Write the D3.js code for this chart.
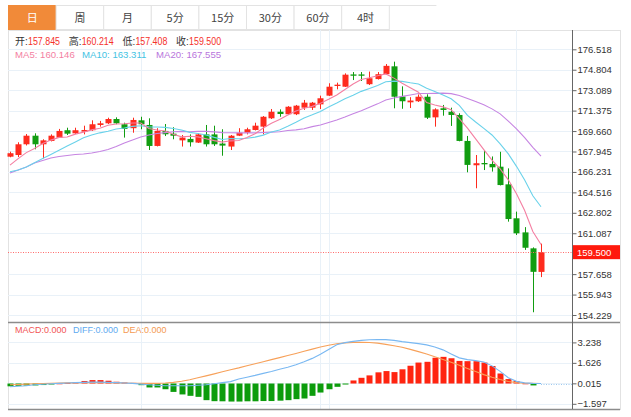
<!DOCTYPE html>
<html><head><meta charset="utf-8">
<script src="https://cdn.jsdelivr.net/npm/d3@7"></script>
<style>
html,body{margin:0;padding:0;background:#fff;}
svg{display:block;font-family:"Liberation Sans",Arial,"Noto Sans CJK SC",sans-serif;}
</style></head><body>
<svg id="c" width="631" height="417"></svg>
<script>
// ---------- data ----------
const tabs = ["日","周","月","5分","15分","30分","60分","4时"];
const openP = [167.51,167.65,168.55,169.27,168.55,168.83,169.11,169.73,169.47,169.61,
169.73,170.17,170.31,170.67,170.23,169.90,170.56,170.17,168.41,169.67,
169.44,168.88,169.00,168.69,169.38,169.38,168.61,168.36,169.27,169.52,
169.75,170.03,170.73,171.28,171.07,171.07,171.62,171.62,171.90,172.63,
173.44,173.38,174.41,174.41,173.59,174.02,174.43,175.09,172.56,172.07,
172.16,172.54,170.81,171.57,171.28,171.01,168.83,166.79,166.98,166.90,
166.67,165.19,162.34,161.16,159.82,157.845];
const highP = [167.93,168.72,169.41,169.47,168.97,169.38,169.84,169.94,169.94,170.11,
170.56,170.51,170.78,170.81,170.36,170.78,170.86,170.73,169.90,170.25,
169.98,169.33,169.38,169.49,170.17,170.11,169.81,169.33,169.90,169.94,
170.36,170.92,171.51,171.48,171.75,171.85,172.27,172.10,172.63,173.67,
173.72,174.50,174.61,174.61,174.65,174.61,175.28,175.48,173.41,172.50,
172.73,172.74,171.57,171.85,171.62,171.15,169.25,167.65,168.07,167.53,
167.92,166.53,162.90,161.60,159.90,160.214];
const lowP = [167.46,167.48,168.45,168.13,167.37,168.79,169.08,169.33,169.41,169.38,
169.67,170.03,170.25,170.23,169.11,169.52,169.81,168.07,168.37,169.24,
168.97,168.36,168.36,168.66,168.36,168.41,167.59,168.07,169.24,169.38,
169.71,169.38,170.67,170.86,171.00,171.00,171.43,171.43,171.51,172.60,
173.16,173.36,173.94,173.86,173.52,173.98,174.40,171.57,171.53,171.59,
172.10,170.67,170.03,170.95,170.09,168.80,166.20,164.86,166.39,166.26,
165.10,162.06,160.94,159.69,154.46,157.408];
const closeP = [167.80,168.55,169.27,168.55,168.88,169.27,169.67,169.44,169.73,169.75,
170.23,170.31,170.67,170.31,169.84,170.59,170.23,168.41,169.67,169.39,
169.27,169.11,168.72,169.38,168.55,168.55,168.44,169.27,169.52,169.81,
170.11,170.86,171.28,171.09,171.70,171.79,172.04,172.04,172.41,173.38,
173.55,174.39,174.30,174.30,174.09,174.43,175.13,172.54,172.16,172.22,
172.54,170.78,171.48,171.43,171.01,168.83,166.82,166.96,166.87,166.62,
165.13,162.28,161.08,159.87,157.85,159.50];
const ma5 = [166.80,167.35,167.85,168.20,168.61,168.90,169.13,169.16,169.40,169.57,
169.76,169.89,170.14,170.25,170.27,170.34,170.33,169.88,169.75,169.66,
169.39,169.17,169.23,169.17,169.01,168.86,168.73,168.84,168.87,169.12,
169.43,169.91,170.32,170.63,171.01,171.34,171.58,171.73,172.00,172.33,
172.68,173.15,173.61,173.98,174.13,174.30,174.45,174.10,173.67,173.30,
172.92,172.05,171.84,171.69,171.45,170.71,169.91,169.01,168.10,167.22,
166.48,165.57,164.40,163.00,161.24,160.146];
const ma10 = [166.25,166.40,166.65,167.00,167.35,167.70,168.05,168.40,168.75,169.09,
169.33,169.51,169.65,169.83,169.92,170.05,170.11,170.01,170.00,169.97,
169.87,169.75,169.55,169.46,169.33,169.13,168.95,169.04,169.02,169.06,
169.15,169.32,169.58,169.75,170.06,170.39,170.75,171.02,171.31,171.67,
172.01,172.37,172.67,172.99,173.23,173.49,173.80,173.85,173.83,173.71,
173.61,173.25,172.97,172.68,172.37,171.81,170.98,170.42,169.89,169.33,
168.59,167.74,166.70,165.55,164.23,163.311];
const ma20 = [166.14,166.39,166.64,166.98,167.19,167.40,167.52,167.61,167.69,167.73,
167.82,167.94,168.11,168.36,168.66,168.91,169.16,169.33,169.46,169.53,
169.60,169.63,169.60,169.64,169.63,169.59,169.53,169.52,169.51,169.51,
169.51,169.54,169.57,169.60,169.70,169.76,169.85,170.03,170.17,170.37,
170.58,170.84,171.12,171.37,171.65,171.94,172.27,172.44,172.57,172.69,
172.81,172.81,172.82,172.84,172.80,172.65,172.39,172.14,171.86,171.52,
171.10,170.50,169.84,169.11,168.30,167.555];
const macdHist = [-0.22,-0.18,-0.16,-0.15,-0.12,-0.05,0.02,0.05,0.10,0.20,
0.27,0.27,0.22,0.14,0.08,0.05,-0.13,-0.31,-0.31,-0.45,
-0.66,-0.86,-0.97,-1.05,-1.31,-1.39,-1.40,-1.42,-1.42,-1.40,
-1.40,-1.38,-1.38,-1.35,-1.31,-1.23,-1.18,-0.97,-0.71,-0.45,
-0.26,-0.02,0.24,0.45,0.64,0.88,0.98,0.90,1.12,1.40,
1.65,1.71,2.03,2.10,1.99,1.78,1.76,1.76,1.65,1.38,
0.79,0.35,0.20,0.02,-0.15,0.00];
const diffLine = [-0.26,-0.22,-0.17,-0.10,-0.06,-0.02,0.01,0.04,0.07,0.09,
0.11,0.11,0.09,0.07,0.04,0.01,-0.05,-0.10,-0.14,-0.17,
-0.18,-0.18,-0.17,-0.14,-0.10,-0.02,0.07,0.15,0.36,0.50,
0.64,0.80,0.94,1.12,1.28,1.48,1.72,1.98,2.30,2.68,
3.05,3.22,3.32,3.40,3.45,3.47,3.46,3.40,3.30,3.22,
3.14,3.04,2.88,2.65,2.33,2.02,1.88,1.80,1.70,1.39,
0.96,0.45,0.17,0.05,0.015,0.00];
const deaLine = [-0.10,-0.08,-0.05,-0.02,0.00,0.015,0.03,0.05,0.05,0.06,
0.07,0.07,0.06,0.05,0.04,0.02,0.01,0.01,0.015,0.04,
0.09,0.18,0.30,0.45,0.60,0.76,0.92,1.08,1.23,1.40,
1.56,1.72,1.88,2.04,2.20,2.37,2.54,2.71,2.88,3.02,
3.13,3.20,3.24,3.25,3.23,3.18,3.08,2.98,2.85,2.69,
2.51,2.32,2.11,1.89,1.68,1.44,1.19,0.95,0.70,0.49,
0.31,0.16,0.07,0.02,0.01,0.00];
const priceTicks = [176.518,174.804,173.089,171.375,169.660,167.945,166.231,164.516,162.802,161.087,157.658,155.943,154.229];
const macdTicks = [3.238,1.626,0.015,-1.597];
const lastPrice = 159.500;
const gridCandles = [16,38,39,62];

// ---------- layout ----------
const svg = d3.select("#c");
const L = 8, R = 620, AX = 572, TOP = 30, MID = 322, BOT = 409;
const n = closeP.length;
const x = d3.scaleLinear().domain([0, n-1]).range([10, 541]);
const y = d3.scaleLinear().domain([154.229, 176.518]).range([315, 49.3]);
const ym = d3.scaleLinear().domain([-1.597, 3.238]).range([403.8, 342.4]);
const UP = "#fe2b1e", DN = "#119d11";
const fmt = d3.format(".3f");
const cr = v => Math.round(v) + 0.5;

// tabs
const tabW = 47.6;
const tg = svg.append("g");
tg.append("line").attr("x1", L).attr("x2", L + tabW*9).attr("y1", 5.5).attr("y2", 5.5).attr("stroke", "#e3e3e3");
tabs.forEach((t, i) => {
  const tx = L + i*tabW;
  tg.append("rect").attr("x", tx + 0.5).attr("y", 5.5).attr("width", tabW).attr("height", 24)
    .attr("fill", i === 0 ? "#f18a39" : "#fff").attr("stroke", i === 0 ? "#f18a39" : "#e3e3e3");
  tg.append("text").attr("x", tx + tabW/2 + 0.5).attr("y", 21.5).attr("text-anchor", "middle")
    .attr("font-size", 11).attr("font-family", "'Noto Sans CJK SC',sans-serif")
    .attr("fill", i === 0 ? "#fff" : "#444").text(t);
});

// frame
svg.append("rect").attr("x", L + 0.5).attr("y", TOP + 0.5).attr("width", R - L).attr("height", BOT - TOP)
  .attr("fill", "#fff").attr("stroke", "#e2e2e2");

// horizontal grids
const gg = svg.append("g").attr("stroke", "#e9f1f8").attr("stroke-width", 1);
priceTicks.forEach(v => gg.append("line").attr("x1", L).attr("x2", AX).attr("y1", cr(y(v))).attr("y2", cr(y(v))));
macdTicks.forEach(v => gg.append("line").attr("x1", L).attr("x2", AX).attr("y1", cr(ym(v))).attr("y2", cr(ym(v))));

// legend backing
svg.append("rect").attr("x", L + 1).attr("y", 33).attr("width", 530).attr("height", 28).attr("fill", "#fff");

// vertical grids
gridCandles.forEach(i => {
  gg.append("line").attr("x1", cr(x(i))).attr("x2", cr(x(i))).attr("y1", TOP).attr("y2", BOT);
});
svg.node().appendChild(gg.node());

// candles
const cg = svg.append("g");
d3.range(n).forEach(i => {
  const up = closeP[i] >= openP[i];
  const col = up ? UP : DN;
  const xc = x(i);
  cg.append("line").attr("x1", cr(xc)).attr("x2", cr(xc)).attr("y1", y(highP[i])).attr("y2", y(lowP[i]))
    .attr("stroke", col).attr("stroke-width", 1);
  const y0 = y(Math.max(openP[i], closeP[i])), y1 = y(Math.min(openP[i], closeP[i]));
  cg.append("rect").attr("x", Math.round(xc) - 2.5).attr("y", y0).attr("width", 6)
    .attr("height", Math.max(1, y1 - y0)).attr("fill", col);
});

// MA lines
const line = arr => d3.line().x((d, i) => x(i)).y(d => y(d))(arr);
[[ma20, "#c685e2"], [ma10, "#6ad2ea"], [ma5, "#f47fa2"]].forEach(([a, c]) =>
  svg.append("path").attr("d", line(a)).attr("fill", "none").attr("stroke", c).attr("stroke-width", 1.1));

// last price line
svg.append("line").attr("x1", L).attr("x2", AX).attr("y1", cr(y(lastPrice))).attr("y2", cr(y(lastPrice)))
  .attr("stroke", "#ff6b6b").attr("stroke-dasharray", "1,1.5");

// MACD histogram
const mg = svg.append("g");
d3.range(n).forEach(i => {
  const v = macdHist[i];
  if (Math.abs(v) < 0.005) return;
  const a = ym(v), b = ym(0);
  mg.append("rect").attr("x", Math.round(x(i)) - 2.5).attr("y", Math.min(a, b)).attr("width", 6)
    .attr("height", Math.max(1, Math.abs(a - b))).attr("fill", v > 0 ? "#ff2410" : "#0c9c0c");
});
const lineM = arr => d3.line().x((d, i) => x(i)).y(d => ym(d))(arr);
svg.append("path").attr("d", lineM(deaLine)).attr("fill", "none").attr("stroke", "#f7a15a").attr("stroke-width", 1.1);
svg.append("path").attr("d", lineM(diffLine)).attr("fill", "none").attr("stroke", "#79b8f2").attr("stroke-width", 1.1);
svg.append("line").attr("x1", x(n-1)).attr("x2", AX).attr("y1", cr(ym(0))).attr("y2", cr(ym(0)))
  .attr("stroke", "#9cc8ee").attr("stroke-dasharray", "1,1.5");

// panel separators
svg.append("line").attr("x1", L).attr("x2", R).attr("y1", MID + 0.5).attr("y2", MID + 0.5).attr("stroke", "#8c8c8c").attr("stroke-width", 1.3);
svg.append("line").attr("x1", L).attr("x2", R).attr("y1", BOT + 0.5).attr("y2", BOT + 0.5).attr("stroke", "#8c8c8c").attr("stroke-width", 1.3);
svg.append("line").attr("x1", AX + 0.5).attr("x2", AX + 0.5).attr("y1", TOP).attr("y2", BOT).attr("stroke", "#666");

// axes
const axMain = d3.axisRight(y).tickValues(priceTicks).tickFormat(fmt).tickSize(4).tickPadding(1);
const axMacd = d3.axisRight(ym).tickValues(macdTicks).tickFormat(fmt).tickSize(4).tickPadding(1);
[axMain, axMacd].forEach(ax => {
  const g = svg.append("g").attr("transform", `translate(${AX + 0.5},0)`).call(ax);
  g.select(".domain").remove();
  g.selectAll("line").attr("stroke", "#666");
  g.selectAll("text").attr("fill", "#333").attr("font-size", 9.5).attr("font-family", "'Liberation Sans',Arial,sans-serif");
});

// last price label
const ly = y(lastPrice);
svg.append("rect").attr("x", AX + 1).attr("y", ly - 7).attr("width", R - AX - 1).attr("height", 14).attr("fill", "#ff1a0d");
svg.append("text").attr("x", AX + 5).attr("y", ly + 3.5).attr("font-size", 9.5).attr("fill", "#fff").text(fmt(lastPrice));

// legends (each item placed at its own x)
const lg = svg.append("g");
function put(txt, col, xx, yy, fs, w) {
  const t = lg.append("text").attr("x", xx).attr("y", yy).attr("font-size", fs).attr("fill", col).text(txt);
  if (w) t.attr("textLength", w).attr("lengthAdjust", "spacingAndGlyphs");
}
const LBL = "#333", VAL = "#f5312a";
[["开:", openP], ["高:", highP], ["低:", lowP], ["收:", closeP]].forEach(([t, arr], k) => {
  const bx = 15 + k * 53.7;
  put(t, LBL, bx, 45, 10);
  put(fmt(arr[n-1]), VAL, bx + 13, 45, 10, 32);
});
put("MA5: " + fmt(ma5[n-1]), "#f47fa2", 15, 58, 9.6);
put("MA10: " + fmt(ma10[n-1]), "#45c3e3", 82, 58, 9.6);
put("MA20: " + fmt(ma20[n-1]), "#b875dc", 156, 58, 9.6);
put("MACD:" + fmt(macdHist[n-1]), "#f25555", 15, 333, 9);
put("DIFF:" + fmt(diffLine[n-1]), "#5eaaf0", 73, 333, 9);
put("DEA:" + fmt(deaLine[n-1]), "#f49a52", 123, 333, 9);
</script>
</body></html>
